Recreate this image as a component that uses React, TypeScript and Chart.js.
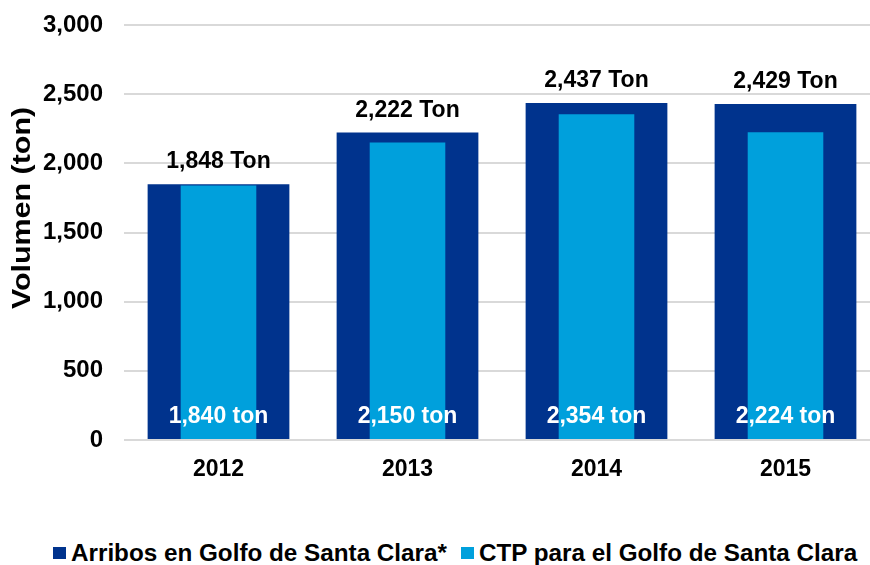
import React, { useEffect, useRef } from 'react';
import { Chart, registerables } from 'chart.js';

Chart.register(...registerables);

const FONT = '"Liberation Sans", Arial, Helvetica, sans-serif';

const categories = ['2012', '2013', '2014', '2015'];
const arribosValues = [1848, 2222, 2437, 2429];
const ctpValues = [1840, 2150, 2354, 2224];
const seriesNames = ['Arribos en Golfo de Santa Clara*', 'CTP para el Golfo de Santa Clara'];
const seriesColors = ['#00338d', '#00a0dc'];
const yMin = 0;
const yMax = 3000;
const yStep = 500;
const yTitle = 'Volumen (ton)';

const fmt = (v: number) => v.toLocaleString('en-US');

const barLabels = {
  id: 'barLabels',
  afterDatasetsDraw(chart: any) {
    const ctx = chart.ctx;
    const yScale = chart.scales.y;
    const zeroY = yScale.getPixelForValue(0);
    ctx.save();
    ctx.font = `bold 23px ${FONT}`;
    ctx.textAlign = 'center';
    ctx.textBaseline = 'alphabetic';
    const outer = chart.getDatasetMeta(0);
    outer.data.forEach((el: any, i: number) => {
      ctx.fillStyle = '#000000';
      ctx.fillText(`${fmt(arribosValues[i])} Ton`, el.x, el.y - 16);
    });
    const inner = chart.getDatasetMeta(1);
    inner.data.forEach((el: any, i: number) => {
      ctx.fillStyle = '#ffffff';
      ctx.fillText(`${fmt(ctpValues[i])} ton`, el.x, zeroY - 17);
    });
    ctx.restore();

    // y axis title (slightly stretched along its baseline, as in the reference)
    ctx.save();
    ctx.translate(22.5, 208);
    ctx.rotate(-Math.PI / 2);
    ctx.scale(1.17, 1);
    ctx.font = `bold 26px ${FONT}`;
    ctx.fillStyle = '#000000';
    ctx.textAlign = 'center';
    ctx.textBaseline = 'middle';
    ctx.fillText(yTitle, 0, 0);
    ctx.restore();
  },
};

export default function App() {
  const canvasRef = useRef<HTMLCanvasElement | null>(null);

  useEffect(() => {
    if (!canvasRef.current) return;
    const chart = new Chart(canvasRef.current, {
      type: 'bar',
      data: {
        labels: categories,
        datasets: [
          {
            label: seriesNames[0],
            data: arribosValues,
            backgroundColor: seriesColors[0],
            barPercentage: 0.75,
            categoryPercentage: 1,
            grouped: false,
            order: 2,
          },
          {
            label: seriesNames[1],
            data: ctpValues,
            backgroundColor: seriesColors[1],
            barPercentage: 0.4,
            categoryPercentage: 1,
            grouped: false,
            order: 1,
          },
        ],
      },
      options: {
        responsive: false,
        animation: false,
        layout: { autoPadding: false, padding: { top: 25, left: 0, right: 0, bottom: 0 } },
        plugins: {
          legend: { display: false },
          tooltip: { enabled: false },
        },
        scales: {
          x: {
            grid: { display: false, drawTicks: false },
            border: { display: false },
            ticks: {
              color: '#000000',
              font: { family: FONT, size: 23, weight: 'bold' },
              padding: 16,
            },
            afterFit: (scale: any) => {
              scale.height = 60;
              scale.paddingLeft = 0;
              scale.paddingRight = 0;
            },
          },
          y: {
            min: yMin,
            max: yMax,
            grid: { color: '#d9d9d9', lineWidth: 2, drawTicks: false },
            border: { display: false },
            ticks: {
              stepSize: yStep,
              color: '#000000',
              font: { family: FONT, size: 24, weight: 'bold' },
              padding: 21,
              callback: (v: any) => fmt(Number(v)),
            },
            title: { display: false, text: yTitle },
            afterFit: (scale: any) => {
              scale.width = 124;
              scale.paddingTop = 0;
              scale.paddingBottom = 0;
            },
          },
        },
      },
      plugins: [barLabels],
    });
    return () => chart.destroy();
  }, []);

  return (
    <div
      style={{
        position: 'absolute',
        left: 0,
        top: 0,
        width: 870,
        height: 565,
        overflow: 'hidden',
        background: '#ffffff',
      }}
    >
      <canvas ref={canvasRef} width={880} height={500} style={{ display: 'block' }} />
      <div
        style={{
          position: 'absolute',
          left: 53,
          top: 539,
          display: 'flex',
          alignItems: 'center',
          height: 28,
          fontFamily: FONT,
          fontWeight: 'bold',
          fontSize: 24.25,
          lineHeight: '28px',
          color: '#000000',
          whiteSpace: 'nowrap',
        }}
      >
        {seriesNames.map((name, i) => (
          <div key={name} style={{ display: 'flex', alignItems: 'center', marginRight: i === 0 ? 14 : 0 }}>
            <span
              style={{
                display: 'inline-block',
                width: 13,
                height: 12,
                background: seriesColors[i],
                marginRight: 5,
              }}
            />
            <span>{name}</span>
          </div>
        ))}
      </div>
    </div>
  );
}
